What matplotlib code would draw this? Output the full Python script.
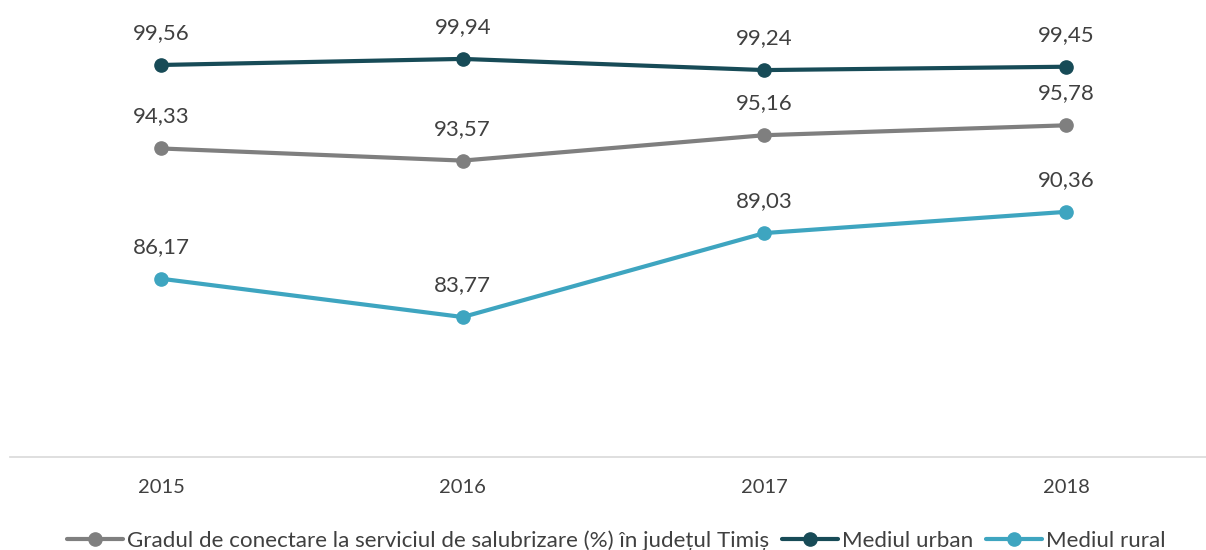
import matplotlib.pyplot as plt

plt.rcParams['font.family'] = ['Lato', 'DejaVu Sans']

# Data
years = ['2015', '2016', '2017', '2018']
total = [94.33, 93.57, 95.16, 95.78]
urban = [99.56, 99.94, 99.24, 99.45]
rural = [86.17, 83.77, 89.03, 90.36]

series = [
    ('Gradul de conectare la serviciul de salubrizare (%) în județul Timiș', total, '#7f7f7f'),
    ('Mediul urban', urban, '#174b57'),
    ('Mediul rural', rural, '#3ea5c0'),
]

fig = plt.figure(figsize=(12.06, 5.5), dpi=100)
ax = fig.add_axes([0, 0.169, 1, 0.831])

x = range(len(years))
for name, vals, col in series:
    ax.plot(x, vals, color=col, lw=3, marker='o', ms=9.5, label=name,
            solid_capstyle='round')
    for xi, v in zip(x, vals):
        ax.annotate(f'{v:.2f}'.replace('.', ','), (xi, v), xytext=(0, 23),
                    textcoords='offset points', ha='center', va='center',
                    fontsize=16, color='#404040')

ax.set_xlim(-0.534, 3.464)
ax.set_ylim(75, 103.63)
ax.set_xticks(list(x))
ax.set_xticklabels(years, fontsize=14.5, color='#404040')
ax.set_yticks([])
ax.tick_params(axis='x', length=0, pad=16)
for s in ['top', 'right', 'left']:
    ax.spines[s].set_visible(False)
ax.spines['bottom'].set_color('#d9d9d9')
ax.spines['bottom'].set_linewidth(1.2)
ax.spines['bottom'].set_bounds(-0.5, 3.5)

fig.legend(loc='center', bbox_to_anchor=(0.511, 0.017), ncol=3, frameon=False,
           fontsize=16.1, handlelength=2.5, handletextpad=0.2, columnspacing=0.55,
           labelcolor='#404040')

fig.savefig('out.png', dpi=100)
